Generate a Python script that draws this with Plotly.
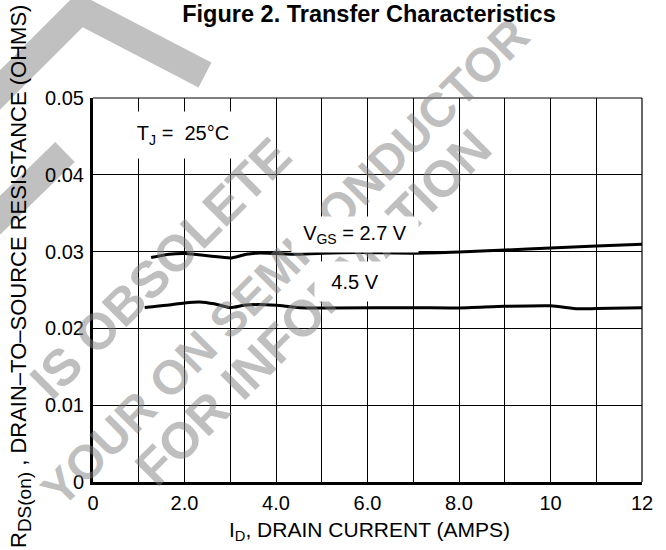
import plotly.graph_objects as go

# ---- data ----
id_27 = [1.27, 1.67, 2.02, 2.55, 3.02, 3.35, 3.64, 4.02, 4.37, 5.0, 5.83, 7.0, 8.0, 9.0, 10.0, 11.0, 12.0]
r_27 = [0.02922, 0.02965, 0.02974, 0.02943, 0.02917, 0.02965, 0.02982, 0.02974, 0.02965, 0.02978,
        0.02987, 0.0298, 0.02995, 0.0302, 0.03047, 0.03073, 0.03095]

id_45 = [1.13, 1.6, 2.0, 2.33, 2.65, 3.0, 3.3, 3.6, 4.0, 4.52, 5.24, 7.0, 8.0, 9.0, 10.0, 10.6, 11.0, 12.0]
r_45 = [0.02272, 0.0230, 0.02332, 0.02345, 0.0232, 0.0227, 0.0230, 0.0231, 0.0230, 0.0227, 0.02267,
        0.0227, 0.02267, 0.02288, 0.02295, 0.02255, 0.02258, 0.0227]

x_tickvals = [0, 2, 4, 6, 8, 10, 12]
x_ticktext = ["0", "2.0", "4.0", "6.0", "8.0", "10", "12"]
x_minor_vals = [1, 3, 5, 7, 9, 11]
y_tickvals = [0, 0.01, 0.02, 0.03, 0.04, 0.05]
y_ticktext = ["0", "0.01", "0.02", "0.03", "0.04", "0.05"]

watermark_lines = ["IS OBSOLETE",
                   "YOUR ON SEMICONDUCTOR",
                   "FOR INFORMATION"]

FONT = "Liberation Sans, Arial, sans-serif"
WM_GRAY = "rgba(128,128,128,0.5)"

fig = go.Figure()
for xs, ys in [(id_27, r_27), (id_45, r_45)]:
    fig.add_trace(go.Scatter(x=xs, y=ys, mode="lines",
                             line=dict(color="black", width=3, shape="spline", smoothing=0.6),
                             showlegend=False, hoverinfo="skip"))

L, R, T, B = 93, 24, 98, 68
W, H = 666, 550
pw, ph = W - L - R, H - T - B

def px(xp):
    return (xp - L) / pw

def py(yp):
    return (H - B - yp) / ph

annotations = []
# watermark (drawn first so the labels cover it)
wm_centers = [(160, 268), (285, 262), (313, 307)]
wm_sizes = [51, 48, 51]
for txt, (cx, cy), sz in zip(watermark_lines, wm_centers, wm_sizes):
    annotations.append(dict(text="<b>" + txt + "</b>", xref="paper", yref="paper",
                            x=px(cx), y=py(cy), xanchor="center", yanchor="middle",
                            textangle=-45, showarrow=False,
                            font=dict(family=FONT, size=sz, color=WM_GRAY)))

# labels
annotations += [
    dict(text="T<sub>J</sub> =\u00a0 25°C", xref="paper", yref="paper", x=px(183), y=py(135),
         xanchor="center", yanchor="middle", showarrow=False, bgcolor="white",
         width=112, height=44, font=dict(family=FONT, size=20, color="black")),
    dict(text="V<sub>GS</sub> = 2.7 V", xref="paper", yref="paper", x=px(355), y=py(234),
         xanchor="center", yanchor="middle", showarrow=False, bgcolor="white",
         width=124, height=33, font=dict(family=FONT, size=20, color="black")),
    dict(text="4.5 V", xref="paper", yref="paper", x=px(355), y=py(281),
         xanchor="center", yanchor="middle", showarrow=False, bgcolor="white",
         width=78, height=37, font=dict(family=FONT, size=20, color="black")),
    dict(text="R<sub><span style='font-size:19px'>DS(on)</span></sub> , DRAIN–TO–SOURCE RESISTANCE (OHMS)",
         xref="paper", yref="paper",
         x=px(20), y=py(277), xanchor="center", yanchor="middle", textangle=-90, showarrow=False,
         font=dict(family=FONT, size=22, color="black")),
    dict(text="I<sub>D</sub>, DRAIN CURRENT (AMPS)", xref="paper", yref="paper",
         x=px(369), y=py(531), xanchor="center", yanchor="middle", showarrow=False,
         font=dict(family=FONT, size=21, color="black")),
]

# large grey watermark strokes at the top-left (pixel coords converted to paper)
def seg_path(pts):
    return "M " + " L ".join(f"{px(a):.4f},{py(b):.4f}" for a, b in pts)

stroke_sets = [
    [(-10, 100), (80, 10), (205, 75)],
    [(-10, 225), (65, 152)],
]
shapes = []
for pts in stroke_sets:
    shapes.append(dict(type="path", xref="paper", yref="paper", path=seg_path(pts),
                       line=dict(color="rgb(192,192,192)", width=28), layer="below"))

shapes += [
    dict(type="line", xref="paper", yref="paper", x0=0, x1=1, y0=1, y1=1,
         line=dict(color="black", width=1.2), layer="above"),
    dict(type="line", xref="paper", yref="paper", x0=1, x1=1, y0=0, y1=1,
         line=dict(color="black", width=1.2), layer="above"),
]

fig.update_layout(
    width=W, height=H,
    margin=dict(l=L, r=R, t=T, b=B, pad=0),
    paper_bgcolor="white", plot_bgcolor="rgba(0,0,0,0)",
    font=dict(family=FONT, size=20, color="black"),
    title=dict(text="<b>Figure 2. Transfer Characteristics</b>", x=px(369), xref="paper",
               xanchor="center", y=1 - 14 / H, yanchor="middle",
               font=dict(family=FONT, size=23.5, color="black")),
    annotations=annotations,
    shapes=shapes,
    showlegend=False,
)
fig.update_xaxes(range=[0, 12], tickmode="array", tickvals=x_tickvals, ticktext=x_ticktext,
                 showgrid=True, gridcolor="black", gridwidth=1,
                 minor=dict(tickvals=x_minor_vals, showgrid=True, gridcolor="black", gridwidth=1, ticks=""),
                 showline=True, linecolor="black", linewidth=3,
                 ticks="outside", ticklen=1, tickcolor="rgba(0,0,0,0)", automargin=False,
                 zeroline=False, tickfont=dict(family=FONT, size=20, color="black"))
fig.update_yaxes(range=[0, 0.05], tickmode="array", tickvals=y_tickvals, ticktext=y_ticktext,
                 showgrid=True, gridcolor="black", gridwidth=1,
                 showline=True, linecolor="black", linewidth=3,
                 ticks="outside", ticklen=2, tickcolor="rgba(0,0,0,0)", automargin=False,
                 zeroline=False, tickfont=dict(family=FONT, size=20, color="black"))

fig.write_html("out.html", config={"displayModeBar": False},
               post_script="document.body.style.margin='0px';")
